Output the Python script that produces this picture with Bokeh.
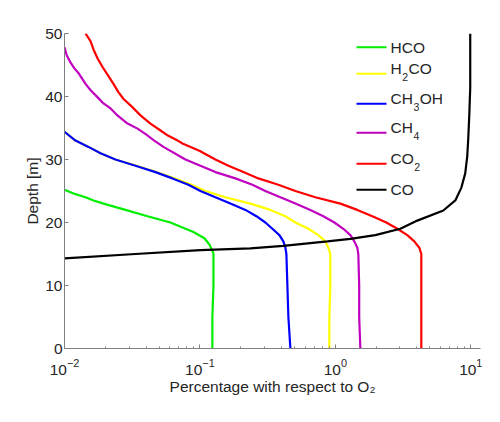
import math
from bokeh.plotting import figure
from bokeh.models import FixedTicker, Label, BoxAnnotation, LogTickFormatter
from bokeh.embed import file_html
from bokeh.resources import INLINE

# Depth profiles: percentage with respect to O2 versus depth [m]
hco_depth = [25.2, 24.5, 24.0, 23.5, 23.0, 22.0, 21.0, 20.0, 19.0, 18.5, 17.5, 16.5, 15.5, 15.0, 10.0, 5.0, 0.0]
hco_pct = [0.0100, 0.01205, 0.01429, 0.01637, 0.01942, 0.0282, 0.04102, 0.06058, 0.07816, 0.08954,
           0.1079, 0.1175, 0.1236, 0.1259, 0.1259, 0.1236, 0.1236]

h2co_depth = [34.4, 33, 32, 31, 30, 29, 28, 27, 26, 25, 24, 23, 22, 21, 20, 19, 18, 17, 16, 15, 10, 5, 0]
h2co_pct = [0.0100, 0.01205, 0.01503, 0.01845, 0.02376, 0.03398, 0.04776, 0.06486, 0.08653, 0.1099,
            0.1542, 0.2360, 0.3313, 0.4276, 0.5069, 0.6324, 0.7490, 0.8433, 0.8876, 0.9183, 0.9183,
            0.9031, 0.9031]

ch3oh_depth = [34.4, 33, 32, 31, 30, 29, 28, 27, 26, 25, 24, 23, 22, 21, 20, 19, 18, 17, 16, 15, 10, 5, 0]
ch3oh_pct = [0.0100, 0.01205, 0.01503, 0.01845, 0.02376, 0.03343, 0.0470, 0.06266, 0.08224, 0.1009,
             0.1301, 0.1679, 0.2168, 0.2612, 0.3043, 0.3428, 0.3862, 0.4132, 0.4276, 0.4350, 0.4425,
             0.4500, 0.4656]

ch4_depth = [47.8, 46.5, 45.5, 44.5, 43.6, 42.0, 41.0, 39.9, 38.9, 38.1, 37.0, 35.7, 34.9, 34.0,
             33.0, 32, 30, 29, 28, 27, 26, 25, 24, 23, 22, 21, 20, 19, 18, 17, 16, 15, 10, 5, 0]
ch4_pct = [0.0100, 0.0104, 0.0110, 0.0118, 0.0128, 0.0143, 0.0156, 0.0175, 0.0194, 0.0219, 0.0246,
           0.0292, 0.0346, 0.0400, 0.0460, 0.0538, 0.07816, 0.1009, 0.1301, 0.1828, 0.2440, 0.3043,
           0.3928, 0.5069, 0.6538, 0.8155, 0.9834, 1.146, 1.291, 1.381, 1.453, 1.478, 1.50, 1.50,
           1.530]

co2_depth = [50, 48.8, 47.3, 46.0, 44.6, 43.3, 42.0, 40.7, 39.6, 38.6, 37.0, 35.7, 34.6, 33.8, 33.0,
             32.5, 31.4, 30, 29, 28, 27, 26, 25, 24, 23, 22, 21, 20, 19, 18, 17, 16, 15, 10, 5, 0]
co2_pct = [0.01429, 0.01556, 0.01650, 0.01760, 0.0192, 0.0210, 0.0230, 0.0250, 0.0273, 0.0307,
           0.0364, 0.0431, 0.0512, 0.0580, 0.0684, 0.0750, 0.0990, 0.1301, 0.1623, 0.2095, 0.2702,
           0.3795, 0.5069, 0.7117, 1.089, 1.453, 1.876, 2.379, 2.869, 3.399, 3.827, 4.169, 4.313,
           4.313, 4.313, 4.313]

co_depth = [14.3, 15.0, 15.6, 15.9, 16.3, 17.0, 17.4, 18.0, 19.0, 20.3, 21.9, 23.5, 25.5, 27.8, 30.5,
            33.5, 37.0, 41.4, 46.0, 50.0]
co_pct = [0.0100, 0.0334, 0.1009, 0.2360, 0.413, 0.873, 1.291, 1.972, 3.02, 4.03, 6.27, 7.69, 8.51,
          9.10, 9.42, 9.59, 9.75, 9.91, 9.91, 9.91]

series_names = ["HCO", "H2CO", "CH3OH", "CH4", "CO2", "CO"]
series_colors = ["#00ee00", "#ffff00", "#0000ff", "#bf00bf", "#ff0000", "#000000"]
# legend text split into (normal, subscript, normal) pieces
legend_parts = [("HCO", "", ""), ("H", "2", "CO"), ("CH", "3", "OH"), ("CH", "4", ""),
                ("CO", "2", ""), ("CO", "", "")]

x_major = [0.01, 0.1, 1, 10]
y_major = [0, 10, 20, 30, 40, 50]
x_title = "Percentage with respect to O\u2082"
y_title = "Depth [m]"

W, H = 500, 422
FL, FR, FT, FB = 64, 480, 33, 348
X_LO, X_HI = 0.01, 11.8
Y_LO, Y_HI = 0, 50
FONT = "Liberation Sans"
FS, FS_SUB = 15.5, 10.5
TEXT = "#262626"
AXIS = "#808080"

# approximate advance widths (em) of the legend glyphs
GLYPH_EM = {"H": 0.722, "C": 0.722, "O": 0.778}


def sx(px):
    """Pixel column inside the canvas -> data x on the log axis."""
    lo, hi = math.log10(X_LO), math.log10(X_HI)
    return 10 ** (lo + (px - FL) / (FR - FL) * (hi - lo))


def sy(py):
    """Pixel row inside the canvas -> data y (depth)."""
    return Y_LO + (FB - py) / (FB - FT) * (Y_HI - Y_LO)


p = figure(width=W, height=H, x_axis_type="log", x_range=(X_LO, X_HI), y_range=(Y_LO, Y_HI),
           output_backend="svg", toolbar_location=None,
           min_border_left=FL, min_border_right=W - FR, min_border_top=FT, min_border_bottom=H - FB)
p.outline_line_color = None
p.grid.visible = False
p.background_fill_color = "white"
p.border_fill_color = "white"

profiles = [(hco_pct, hco_depth), (h2co_pct, h2co_depth), (ch3oh_pct, ch3oh_depth),
            (ch4_pct, ch4_depth), (co2_pct, co2_depth), (co_pct, co_depth)]
for (xs, ys), c in zip(profiles, series_colors):
    p.line(xs, ys, line_color=c, line_width=2.2)

# axes
minor = [m * d for d in x_major for m in range(2, 10) if m * d <= X_HI]
p.xaxis.ticker = FixedTicker(ticks=x_major, minor_ticks=minor)
p.xaxis.formatter = LogTickFormatter()
p.yaxis.ticker = FixedTicker(ticks=y_major, minor_ticks=[])
for ax in (p.xaxis, p.yaxis):
    ax.axis_line_color = AXIS
    ax.major_tick_line_color = AXIS
    ax.minor_tick_line_color = AXIS
    ax.major_tick_in = 4
    ax.major_tick_out = 0
    ax.minor_tick_in = 2
    ax.minor_tick_out = 0
    ax.major_label_text_font = FONT
    ax.major_label_text_font_size = f"{FS}px"
    ax.major_label_text_color = TEXT
    ax.axis_label_text_font = FONT
    ax.axis_label_text_font_size = f"{FS}px"
    ax.axis_label_text_font_style = "normal"
    ax.axis_label_text_color = TEXT
p.yaxis.major_label_standoff = 2
p.xaxis.major_label_standoff = 10
p.xaxis.axis_label = x_title
p.xaxis.axis_label_standoff = 0
p.yaxis.axis_label = y_title
p.yaxis.axis_label_standoff = 1

# legend
rows = [46.7, 73.3, 103.3, 132.3, 163.3, 189.3]
for (a, s, b), c, r in zip(legend_parts, series_colors, rows):
    p.add_layout(BoxAnnotation(left=sx(356), right=sx(386), bottom=sy(r + 1), top=sy(r - 1),
                               fill_color=c, fill_alpha=1, line_alpha=0))
    dy = -5.5 if s else 0
    p.add_layout(Label(x=sx(390), y=sy(r + dy), text=a, text_align="left", text_baseline="middle",
                       text_font=FONT, text_font_size=f"{FS}px", text_color=TEXT))
    if s:
        sub_x = 390 + sum(GLYPH_EM[ch] for ch in a) * FS + 0.5
        p.add_layout(Label(x=sx(sub_x), y=sy(r + 3.5), text=s, text_align="left",
                           text_baseline="middle", text_font=FONT, text_font_size=f"{FS_SUB}px",
                           text_color=TEXT))
        if b:
            p.add_layout(Label(x=sx(sub_x + 0.556 * FS_SUB + 0.5), y=sy(r + dy), text=b,
                               text_align="left", text_baseline="middle", text_font=FONT,
                               text_font_size=f"{FS}px", text_color=TEXT))

open("out.html", "w").write(file_html(p, INLINE))
